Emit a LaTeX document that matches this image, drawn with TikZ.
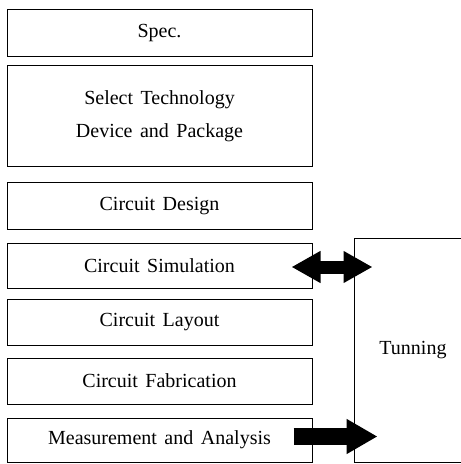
\documentclass[tikz,border=0pt]{standalone}
\usepackage{fontspec}
\setmainfont{Liberation Serif}[WordSpace=1.5]
\usetikzlibrary{arrows.meta,calc}

\begin{document}
\begin{tikzpicture}[x=0.5pt,y=-0.5pt,
    blk/.style={draw,line width=0.5pt,minimum width=152.5pt,inner sep=0pt,
      font=\fontsize{10}{16.5}\selectfont,align=center},
    dblarrow/.style={line width=6.5pt,
      {Triangle[width=15pt,length=14.5pt]}-{Triangle[width=15pt,length=14.5pt]}},
    onearrow/.style={line width=8.5pt,-{Triangle[width=16.5pt,length=15.5pt]}}]
  \useasboundingbox (0,0) rectangle (460,464);

  % design flow
  \node[blk,minimum height=23.5pt] (spec) at (159.5,33.5) {Spec.};
  \node[blk,minimum height=50.5pt] (select) at (159.5,116.5) {Select Technology\\Device and Package};
  \node[blk,minimum height=23pt] (design) at (159.5,206) {Circuit Design};
  \node[blk,minimum height=22.5pt] (simu) at (159.5,265.5) {Circuit Simulation};
  \node[blk,minimum height=23pt] (layout) at (159.5,322) {Circuit Layout};
  \node[blk,minimum height=23pt] (fab) at (159.5,381) {Circuit Fabrication};
  \node[blk,minimum height=22pt] (meas) at (159.5,440) {Measurement and Analysis};

  % tuning box (right edge runs off the page)
  \node[blk,minimum width=59pt,minimum height=112pt] (tun) at (413,350) {Tunning};

  % feedback arrows
  \draw[dblarrow] ($(simu.east)+(-21,1.5)$) -- ($(simu.east -| tun.west)+(19,1.5)$);
  \draw[onearrow] ($(meas.east)+(-19,-3.5)$) -- ($(meas.east -| tun.west)+(24,-3.5)$);
\end{tikzpicture}
\end{document}
